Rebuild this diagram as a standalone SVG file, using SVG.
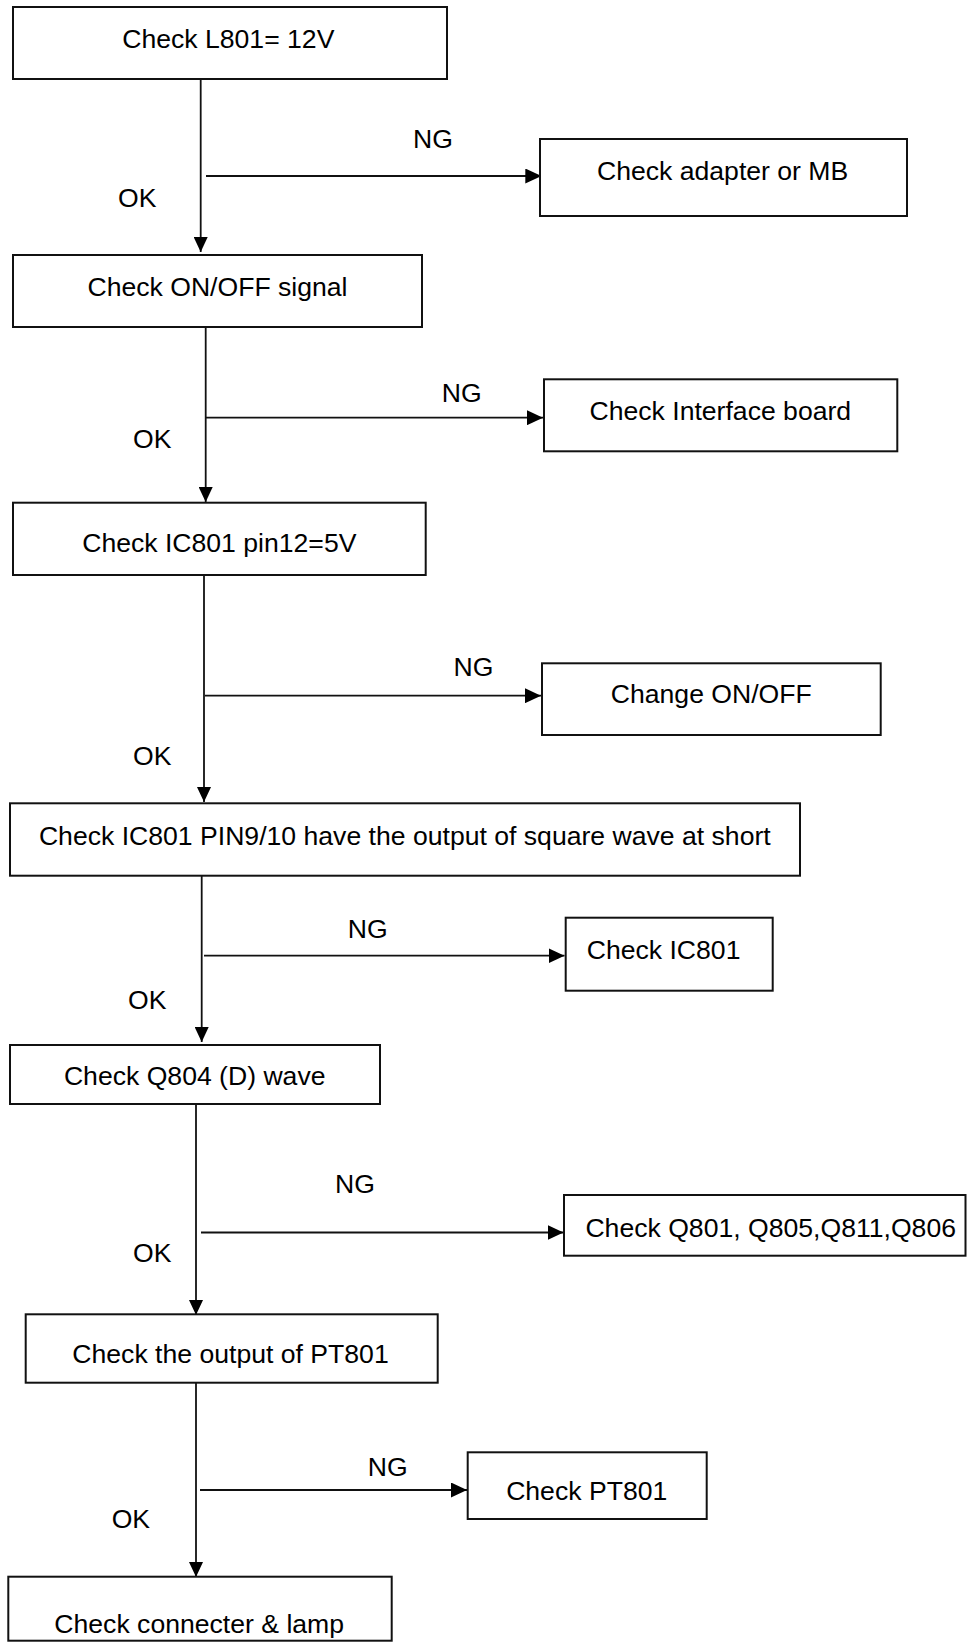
<svg xmlns="http://www.w3.org/2000/svg" width="968" height="1643" viewBox="0 0 968 1643">
  <style>
    .box { fill: #ffffff; stroke: #111111; stroke-width: 2; }
    .t { font-family: "Liberation Sans", Arial, sans-serif; font-size: 26.6px; fill: #000000; }
    .c { text-anchor: middle; }
    .flow { stroke: #111111; stroke-width: 1.8; fill: none; }
    .down { marker-end: url(#arrowDown); }
    .right { marker-end: url(#arrowRight); }
  </style>
  <defs>
    <marker id="arrowDown" markerUnits="userSpaceOnUse" markerWidth="15" markerHeight="15" refX="7" refY="15" orient="0">
      <path d="M0,0 L14,0 L7,15 Z" fill="#000000"/>
    </marker>
    <marker id="arrowRight" markerUnits="userSpaceOnUse" markerWidth="16" markerHeight="15" refX="16" refY="7.5" orient="0">
      <path d="M0,0 L16,7.5 L0,15 Z" fill="#000000"/>
    </marker>
  </defs>
  <rect width="968" height="1643" fill="#ffffff"/>

  <!-- connectors -->
  <g id="connectors">
    <line class="flow down" x1="200.7" y1="79" x2="200.7" y2="252"/>
    <line class="flow right" x1="206" y1="176" x2="541.3" y2="176"/>
    <text class="t" x="413" y="148">NG</text>
    <text class="t" x="118" y="207">OK</text>

    <line class="flow down" x1="205.7" y1="327" x2="205.7" y2="502"/>
    <line class="flow right" x1="205.7" y1="417.7" x2="543" y2="417.7"/>
    <text class="t" x="441.7" y="402">NG</text>
    <text class="t" x="133" y="447.7">OK</text>

    <line class="flow down" x1="204" y1="575" x2="204" y2="802"/>
    <line class="flow right" x1="205" y1="695.7" x2="541" y2="695.7"/>
    <text class="t" x="453.5" y="676">NG</text>
    <text class="t" x="133" y="765">OK</text>

    <line class="flow down" x1="201.7" y1="876" x2="201.7" y2="1042"/>
    <line class="flow right" x1="204" y1="955.7" x2="564.5" y2="955.7"/>
    <text class="t" x="347.7" y="938.3">NG</text>
    <text class="t" x="128" y="1009">OK</text>

    <line class="flow down" x1="196" y1="1104" x2="196" y2="1315"/>
    <line class="flow right" x1="201" y1="1232.5" x2="563.5" y2="1232.5"/>
    <text class="t" x="335" y="1193.3">NG</text>
    <text class="t" x="133" y="1262.3">OK</text>

    <line class="flow down" x1="196" y1="1383" x2="196" y2="1577"/>
    <line class="flow right" x1="200" y1="1490" x2="467" y2="1490"/>
    <text class="t" x="367.7" y="1476">NG</text>
    <text class="t" x="111.7" y="1528.3">OK</text>
  </g>

  <!-- nodes -->
  <g id="check-l801">
    <rect class="box" x="13" y="7" width="434" height="72"/>
    <text class="t c" x="228.3" y="48.3">Check L801= 12V</text>
  </g>
  <g id="check-adapter">
    <rect class="box" x="540" y="139" width="367" height="77"/>
    <text class="t c" x="722.6" y="180">Check adapter or MB</text>
  </g>
  <g id="check-onoff">
    <rect class="box" x="13" y="255" width="409" height="72"/>
    <text class="t c" x="217.5" y="296">Check ON/OFF signal</text>
  </g>
  <g id="check-interface">
    <rect class="box" x="544" y="379.3" width="353.3" height="72"/>
    <text class="t c" x="720.3" y="420">Check Interface board</text>
  </g>
  <g id="check-ic801-pin12">
    <rect class="box" x="13" y="502.7" width="412.7" height="72.3"/>
    <text class="t c" x="219.3" y="551.7">Check IC801 pin12=5V</text>
  </g>
  <g id="change-onoff">
    <rect class="box" x="542" y="663.3" width="338.7" height="71.7"/>
    <text class="t c" x="711.3" y="703.3">Change ON/OFF</text>
  </g>
  <g id="check-ic801-pin9-10">
    <rect class="box" x="10" y="803.3" width="790" height="72.4"/>
    <text class="t c" x="404.8" y="845">Check IC801 PIN9/10 have the output of square wave at short</text>
  </g>
  <g id="check-ic801">
    <rect class="box" x="565.7" y="917.7" width="207" height="73"/>
    <text class="t" x="586.7" y="959">Check IC801</text>
  </g>
  <g id="check-q804">
    <rect class="box" x="10" y="1045" width="370" height="59"/>
    <text class="t c" x="194.7" y="1085">Check Q804 (D) wave</text>
  </g>
  <g id="check-q801-group">
    <rect class="box" x="564" y="1195" width="401.5" height="60.7"/>
    <text class="t c" x="770.7" y="1236.7">Check Q801, Q805,Q811,Q806</text>
  </g>
  <g id="check-pt801-output">
    <rect class="box" x="25.7" y="1314.3" width="412" height="68.4"/>
    <text class="t c" x="230.5" y="1362.7">Check the output of PT801</text>
  </g>
  <g id="check-pt801">
    <rect class="box" x="467.7" y="1452.3" width="239" height="66.7"/>
    <text class="t c" x="586.7" y="1500">Check PT801</text>
  </g>
  <g id="check-connecter">
    <rect class="box" x="8.3" y="1576.7" width="383.4" height="64"/>
    <text class="t c" x="199.2" y="1632.7">Check connecter &amp; lamp</text>
  </g>
</svg>
